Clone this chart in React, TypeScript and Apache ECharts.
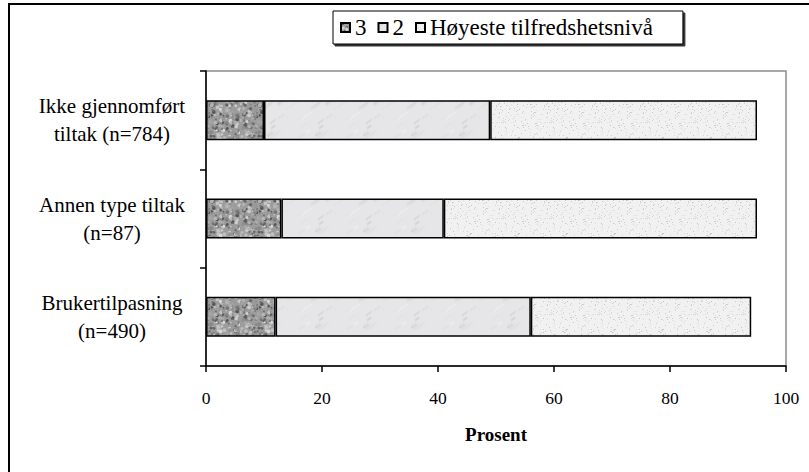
import React, { useEffect, useRef } from "react";
import * as echarts from "echarts";

const categories = [
  "Ikke gjennomført\ntiltak (n=784)",
  "Annen type tiltak\n(n=87)",
  "Brukertilpasning\n(n=490)",
];
const seriesNames = ["3", "2", "Høyeste tilfredshetsnivå"];
const level3 = [10, 13, 12];
const level2 = [39, 28, 44];
const levelTop = [46, 54, 38];
const axisTitle = "Prosent";

const FONT = "'Liberation Serif', 'Times New Roman', serif";

function hash(i: number, seed: number) {
  const v = Math.sin(i * 12.9898 + seed * 78.233) * 43758.5453;
  return v - Math.floor(v);
}

function makeTexture(kind: number) {
  const c = document.createElement("canvas");
  const S = 48;
  c.width = S;
  c.height = S;
  const g = c.getContext("2d")!;
  if (kind === 0) {
    g.fillStyle = "#9c9c9c";
    g.fillRect(0, 0, S, S);
    for (let i = 0; i < 320; i++) {
      const x = hash(i, 1) * S;
      const y = hash(i, 2) * S;
      const r = 0.6 + hash(i, 3) * 1.4;
      const shade = Math.round(70 + hash(i, 4) * 160);
      g.fillStyle = `rgba(${shade},${shade},${shade},0.85)`;
      g.beginPath();
      g.arc(x, y, r, 0, Math.PI * 2);
      g.fill();
    }
  } else if (kind === 1) {
    g.fillStyle = "#e6e6e8";
    g.fillRect(0, 0, S, S);
    for (let i = 0; i < 30; i++) {
      const x = hash(i, 11) * S;
      const y = hash(i, 12) * S;
      const len = 4 + hash(i, 13) * 10;
      const shade = Math.round(195 + hash(i, 14) * 50);
      g.strokeStyle = `rgba(${shade},${shade},${shade},0.55)`;
      g.lineWidth = 1 + hash(i, 15) * 2.5;
      g.beginPath();
      g.moveTo(x, y);
      g.lineTo(x + len, y - len * 0.7);
      g.stroke();
    }
  } else {
    g.fillStyle = "#f1f1f1";
    g.fillRect(0, 0, S, S);
    for (let i = 0; i < 260; i++) {
      const x = Math.floor(hash(i, 21) * S);
      const y = Math.floor(hash(i, 22) * S);
      const shade = Math.round(195 + hash(i, 23) * 45);
      g.fillStyle = `rgb(${shade},${shade},${shade})`;
      g.fillRect(x, y, 1, 1);
    }
  }
  return { image: c, repeat: "repeat" as const };
}

export default function App() {
  const ref = useRef<HTMLDivElement>(null);
  useEffect(() => {
    document.body.style.margin = "0";
    const chart = echarts.init(ref.current!, undefined, { renderer: "svg" });
    const fills = [makeTexture(0), makeTexture(1), makeTexture(2)];
    const values = [level3, level2, levelTop];
    chart.setOption({
      animation: false,
      backgroundColor: "#ffffff",
      textStyle: { fontFamily: FONT, color: "#000" },
      graphic: [
        {
          type: "rect",
          shape: { x: 9, y: 4, width: 900, height: 600 },
          style: { fill: "none", stroke: "#000", lineWidth: 2 },
          silent: true,
        },
      ],
      legend: {
        left: 333,
        top: 11,
        itemWidth: 9,
        itemHeight: 9,
        itemGap: 11,
        padding: [5, 30, 5, 7],
        borderColor: "#000",
        borderWidth: 1,
        shadowColor: "rgba(0,0,0,0.8)",
        shadowOffsetX: 2,
        shadowOffsetY: 2,
        backgroundColor: "#fff",
        textStyle: { fontFamily: FONT, fontSize: 23, color: "#000" },
        data: seriesNames.map((n) => ({ name: n, icon: "rect" })),
      },
      grid: {
        left: 206,
        top: 71,
        right: 23,
        bottom: 106,
        show: true,
        borderColor: "#8c8c8c",
        borderWidth: 1.5,
      },
      xAxis: {
        type: "value",
        min: 0,
        max: 100,
        interval: 20,
        name: axisTitle,
        nameLocation: "middle",
        nameGap: 59,
        nameTextStyle: { fontFamily: FONT, fontSize: 19, fontWeight: "bold", color: "#000" },
        axisLine: { show: true, lineStyle: { color: "#000", width: 1.5 } },
        axisTick: { show: true, length: 6, lineStyle: { color: "#000", width: 1.5 } },
        axisLabel: { margin: 23, fontFamily: FONT, fontSize: 17.5, color: "#000" },
        splitLine: { show: false },
      },
      yAxis: {
        type: "category",
        inverse: true,
        data: categories,
        axisLine: { show: true, lineStyle: { color: "#000", width: 1.5 } },
        axisTick: { show: true, length: 6, lineStyle: { color: "#000", width: 1.5 } },
        axisLabel: {
          margin: 94,
          fontFamily: FONT,
          fontSize: 21,
          lineHeight: 28,
          color: "#000",
          align: "center",
        },
      },
      series: seriesNames.map((n, i) => ({
        name: n,
        type: "bar",
        stack: "total",
        barWidth: 40,
        data: values[i],
        itemStyle: { color: fills[i], borderColor: "#000", borderWidth: 1.5 },
      })),
    });
    return () => chart.dispose();
  }, []);
  return <div ref={ref} style={{ width: 809, height: 472 }} />;
}
